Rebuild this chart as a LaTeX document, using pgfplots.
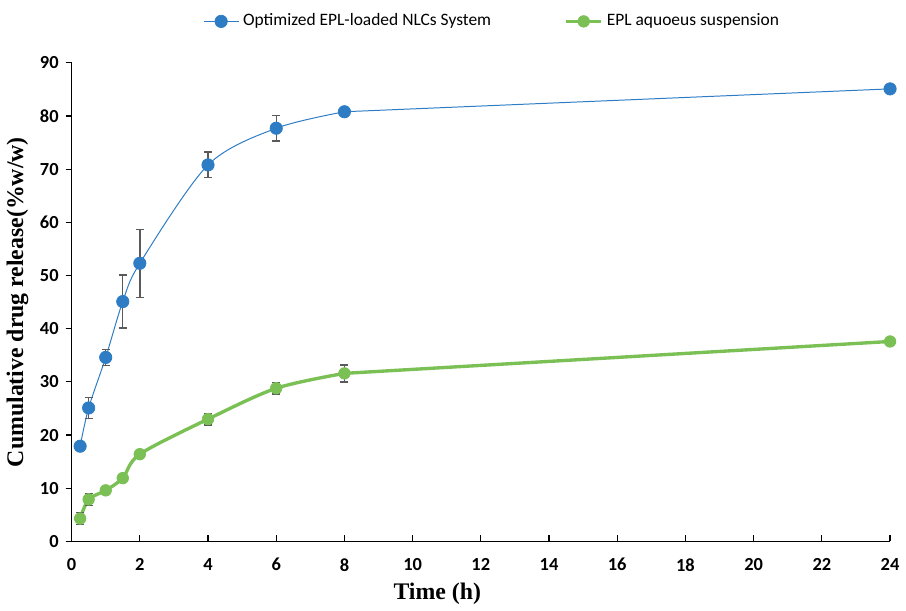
\documentclass[border=0pt]{standalone}
\usepackage{fontspec}
\setmainfont{Liberation Serif}
\newfontfamily\calibri{Carlito}
\usepackage{pgfplots}
\pgfplotsset{compat=1.18}

\definecolor{nlcblue}{RGB}{46,125,196}
\definecolor{suspgreen}{RGB}{122,192,84}
\definecolor{errgray}{RGB}{90,90,90}

\begin{document}
\begin{tikzpicture}
\begin{axis}[
    scale only axis,
    width=413pt, height=241.5pt,
    xmin=0, xmax=24, ymin=0, ymax=90,
    xtick={0,2,...,24}, ytick={0,10,...,90},
    axis lines*=left,
    axis line style={line width=0.6pt},
    tick style={black, line width=0.6pt},
    major tick length=3pt,
    tick align=outside,
    x tick style={yshift=3pt},
    /pgf/number format/assume math mode=true,
    tick label style={font=\calibri\bfseries\fontsize{9.3}{11}\selectfont},
    xticklabel style={yshift=-2pt},
    xlabel={\textbf{Time (h)}},
    ylabel={\textbf{Cumulative drug release(\%w/w)}},
    label style={font=\fontsize{12}{14}\selectfont},
    xlabel style={yshift=1pt, xshift=-22pt},
    ylabel style={yshift=-1pt},
    legend columns=2,
    legend style={draw=none, fill=none, at={(0.515,1.041)}, anchor=south,
        inner ysep=5pt,
        font=\calibri\fontsize{8.8}{10}\selectfont,
        /tikz/every even column/.append style={column sep=35pt}},
    error bars/error bar style={errgray, line width=0.7pt},
    error bars/error mark options={rotate=90, mark size=2pt, errgray, line width=0.7pt},
]
% connecting curves (smoothed up to 8 h, then to 24 h)
\addplot[nlcblue, line width=0.5pt, smooth, forget plot] coordinates {
    (0.25,17.9) (0.5,25.1) (1,34.6) (1.5,45.1) (2,52.3) (4,70.8) (6,77.7) (8,80.8)};
\addplot[nlcblue, line width=0.5pt, forget plot] coordinates {(8,80.8) (24,85.1)};
\addplot[suspgreen, line width=1.7pt, smooth, forget plot] coordinates {
    (0.25,4.3) (0.5,7.9) (1,9.6) (1.5,11.9) (2,16.4) (4,23.0) (6,28.8) (8,31.6)};
\addplot[suspgreen, line width=1.7pt, forget plot] coordinates {(8,31.6) (24,37.6)};

% points with error bars
\addplot[only marks, mark=*, mark size=3.1pt,
    mark options={fill=nlcblue, draw=nlcblue},
    legend image code/.code={
        \draw[nlcblue, line width=0.5pt] (0cm,0cm) -- (0.62cm,0cm);
        \fill[nlcblue] (0.31cm,0cm) circle (3.1pt);},
    error bars/.cd, y dir=both, y explicit]
  coordinates {
    (0.25,17.9) +- (0,0.0)
    (0.5,25.1) +- (0,2.0)
    (1,34.6) +- (0,1.5)
    (1.5,45.1) +- (0,5.0)
    (2,52.3) +- (0,6.4)
    (4,70.8) +- (0,2.4)
    (6,77.7) +- (0,2.4)
    (8,80.8) +- (0,0.0)
    (24,85.1) +- (0,0.0)
  };
\addlegendentry{Optimized EPL-loaded NLCs System}
\addplot[only marks, mark=*, mark size=2.9pt,
    mark options={fill=suspgreen, draw=suspgreen},
    legend image code/.code={
        \draw[suspgreen, line width=1.7pt] (0cm,0cm) -- (0.62cm,0cm);
        \fill[suspgreen] (0.31cm,0cm) circle (2.9pt);},
    error bars/.cd, y dir=both, y explicit]
  coordinates {
    (0.25,4.3) +- (0,1.1)
    (0.5,7.9) +- (0,1.1)
    (1,9.6) +- (0,0.0)
    (1.5,11.9) +- (0,0.0)
    (2,16.4) +- (0,0.0)
    (4,23.0) +- (0,1.1)
    (6,28.8) +- (0,1.1)
    (8,31.6) +- (0,1.6)
    (24,37.6) +- (0,0.0)
  };
\addlegendentry{EPL aquoeus suspension}
\end{axis}
\end{tikzpicture}
\end{document}
